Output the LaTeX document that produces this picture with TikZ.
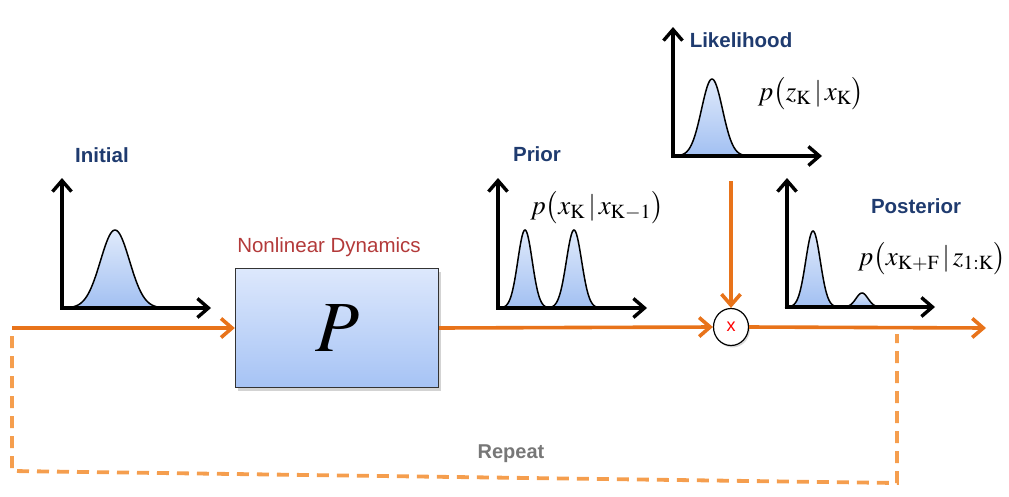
\documentclass[tikz,border=0pt]{standalone}
\usepackage{mathptmx}
\usepackage{fontspec}
\setsansfont{Liberation Sans}
\usetikzlibrary{arrows.meta,shadows,shapes.geometric}
\definecolor{orng}{HTML}{E8731A}
\definecolor{lorng}{HTML}{F59E4E}
\definecolor{lblue}{HTML}{1F3B6F}
\definecolor{dred}{HTML}{B33A3A}
\definecolor{rgray}{HTML}{777777}
\definecolor{boxc}{HTML}{333333}
\definecolor{gtop}{HTML}{E0EAFB}
\definecolor{gbot}{HTML}{A2C0F2}
\definecolor{btop}{HTML}{DDE8FC}
\definecolor{bbot}{HTML}{A6C3F5}
\begin{document}
\begin{tikzpicture}[x=1pt,y=-1pt,
  flow/.style={draw=orng, line width=3.6pt, -{Straight Barb[length=11pt,width=19pt]}},
  loopline/.style={draw=lorng, line width=3.8pt, dash pattern=on 12pt off 8pt},
  axis/.style={line width=3.4pt, line join=miter, {Straight Barb[length=11pt,width=19pt]}-{Straight Barb[length=11pt,width=19pt]}},
  curve/.style={draw=black, line width=1.5pt, top color=gtop, bottom color=gbot},
  lbl/.style={font=\sffamily\bfseries\fontsize{20.5}{20.5}\selectfont, text=lblue, inner sep=0.5pt},
  frm/.style={font=\fontsize{27}{27}\selectfont, inner sep=0.5pt},
  box/.style={draw=boxc, line width=1.4pt, top color=btop, bottom color=bbot,
    minimum width=203pt, minimum height=119pt, inner sep=0pt,
    drop shadow={opacity=0.35, shadow xshift=2pt, shadow yshift=-3pt},
    font=\fontsize{72}{72}\selectfont},
  mult/.style={ellipse, draw=black, line width=1.2pt, fill=white, minimum width=35pt,
    minimum height=37pt, inner sep=0pt, text=red,
    drop shadow={opacity=0.3, shadow xshift=1.5pt, shadow yshift=-2pt},
    font=\sffamily\fontsize{18}{18}\selectfont}
]
\useasboundingbox (0,0) rectangle (1009,496);

% --- dashed repeat loop ---
\coordinate (l1) at (12,336);
\coordinate (l2) at (12,471);
\coordinate (l3) at (897,483);
\coordinate (l4) at (897,334);
\draw[loopline] (l1) -- (l2) -- (l3) -- (l4);
\node[font=\sffamily\bfseries\fontsize{20}{20}\selectfont, text=rgray] (rep) at (511,454) {Repeat};

% --- main blocks ---
\node[box] (P) at (337,328) {$P$};
\node[font=\sffamily\fontsize{20.5}{20.5}\selectfont, text=dred] (nld) at (329,247) {Nonlinear Dynamics};
\node[mult] (M) at (731,327) {x};

\coordinate (in) at (12,328);
\coordinate (out) at (986,328);
\coordinate (obs) at (731,181);
\draw[flow] (in) -- (P.west);
\draw[flow] (P.east) -- (M.west);
\draw[flow] (M.east) -- (out);
\draw[flow] (obs) -- (M.north);

% --- Initial ---
\shadedraw[curve] plot[domain=66:164, samples=80] (\x,{308-78*exp(-((\x-115)/14.5)^2/2)}) -- cycle;
\draw[axis] (62,178) -- (62,308) -- (211,308);
\node[lbl] (initlbl) at (102,155) {Initial};

% --- Prior ---
\shadedraw[curve] plot[domain=503:548, samples=60] (\x,{308-78*exp(-((\x-525)/7.2)^2/2)}) -- cycle;
\shadedraw[curve] plot[domain=548:599, samples=60] (\x,{308-78*exp(-((\x-574)/7.6)^2/2)}) -- cycle;
\draw[axis] (498,178) -- (498,308) -- (647,308);
\node[lbl] (priorlbl) at (537,154) {Prior};
\node[frm] (priorf) at (597,208) {$p\bigl(x_{\mathrm{K}}\,|\,x_{\mathrm{K-1}}\bigr)$};

% --- Likelihood ---
\shadedraw[curve] plot[domain=677:747, samples=70] (\x,{156-77*exp(-((\x-712)/10.5)^2/2)}) -- cycle;
\draw[axis] (673,27) -- (673,156) -- (822,156);
\node[lbl] (likelbl) at (741,40) {Likelihood};
\node[frm] (likef) at (811,94) {$p\bigl(z_{\mathrm{K}}\,|\,x_{\mathrm{K}}\bigr)$};

% --- Posterior ---
\shadedraw[curve] plot[domain=790:837, samples=60] (\x,{307-76*exp(-((\x-813)/7.3)^2/2)}) -- cycle;
\shadedraw[curve] plot[domain=844:881, samples=50] (\x,{307-14*exp(-((\x-862)/6)^2/2)}) -- cycle;
\draw[axis] (787,178) -- (787,307) -- (935,307);
\node[lbl] (postlbl) at (916,206) {Posterior};
\node[frm] (postf) at (932,259) {$p\bigl(x_{\mathrm{K+F}}\,|\,z_{\mathrm{1:K}}\bigr)$};
\end{tikzpicture}
\end{document}
